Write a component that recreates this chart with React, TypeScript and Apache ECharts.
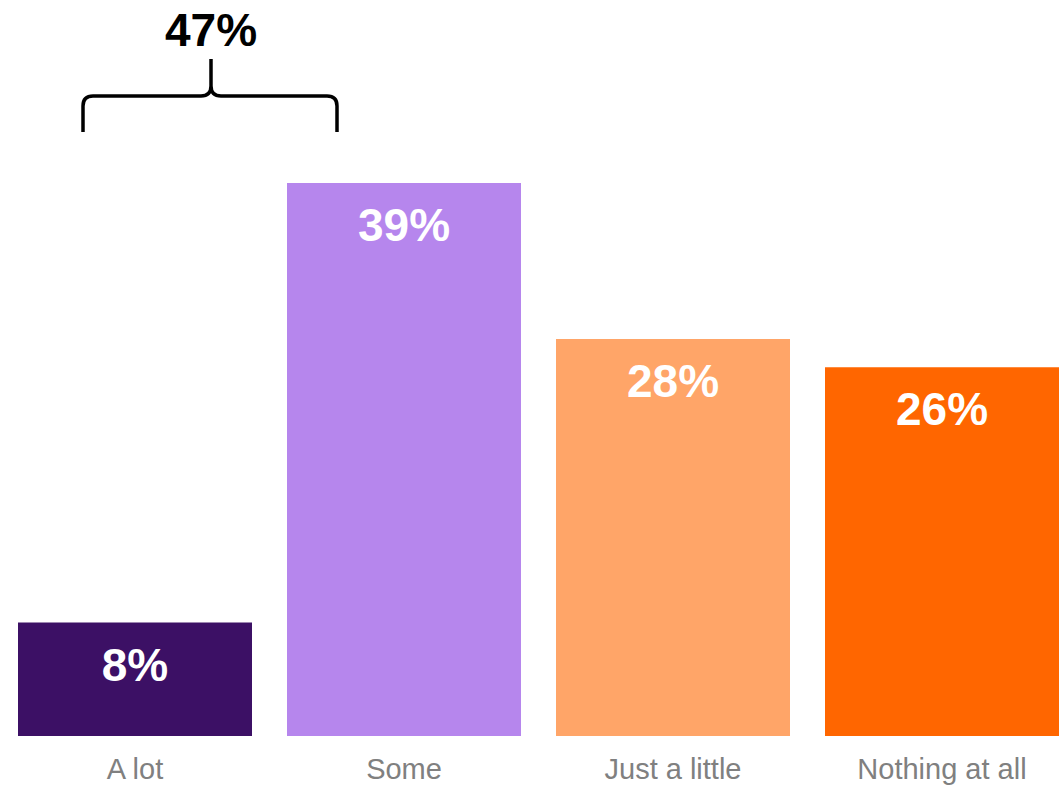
import React, { useEffect, useRef } from "react";
import * as echarts from "echarts";

const categories = ["A lot", "Some", "Just a little", "Nothing at all"];
const values = [8, 39, 28, 26];
const barColors = ["#3C1065", "#B686ED", "#FFA568", "#FF6600"];
const braceLabel = "47%";

const FONT = "'Liberation Sans', Arial, Helvetica, sans-serif";

let registered = false;
function registerBrace() {
  if (registered) return;
  const d =
    "M83,132 L83,106 Q83,96 93,96 L201,96 Q211,96 211,86 L211,59 M211,86 Q211,96 221,96 L327,96 Q337,96 337,106 L337,132";
  echarts.graphic.registerShape("brace", (echarts.graphic as any).extendPath(d, {}));
  registered = true;
}

export default function App() {
  const ref = useRef<HTMLDivElement>(null);
  useEffect(() => {
    if (!ref.current) return;
    registerBrace();
    const chart = echarts.init(ref.current, undefined, { renderer: "svg" });
    chart.setOption({
      animation: false,
      grid: { left: 0.5, width: 1076, top: 27, bottom: 50, containLabel: false },
      xAxis: {
        type: "category",
        data: categories,
        axisLine: { show: false },
        axisTick: { show: false },
        axisLabel: { color: "#808080", fontSize: 29, fontFamily: FONT, margin: 18 },
      },
      yAxis: { type: "value", min: 0, max: 50, show: false, splitLine: { show: false } },
      series: [
        {
          type: "bar",
          barWidth: 234,
          data: values.map((v, i) => ({ value: v, itemStyle: { color: barColors[i] } })),
          label: {
            show: true,
            position: "insideTop",
            distance: 19,
            formatter: "{c}%",
            color: "#ffffff",
            fontSize: 46,
            fontWeight: "bold",
            fontFamily: FONT,
          },
        },
      ],
      graphic: [
        {
          type: "brace",
          x: 0,
          y: 0,
          style: { stroke: "#000000", fill: "none", lineWidth: 3.5 },
        },
        {
          type: "text",
          x: 211,
          y: 30,
          style: {
            text: braceLabel,
            fill: "#000000",
            font: `bold 46px ${FONT}`,
            align: "center",
            verticalAlign: "middle",
          },
        },
      ],
    });
    return () => chart.dispose();
  }, []);
  return (
    <div
      style={{
        position: "absolute",
        left: 0,
        top: 0,
        width: 1063,
        height: 786,
        overflow: "hidden",
      }}
    >
      <div ref={ref} style={{ width: 1080, height: 786 }} />
    </div>
  );
}
